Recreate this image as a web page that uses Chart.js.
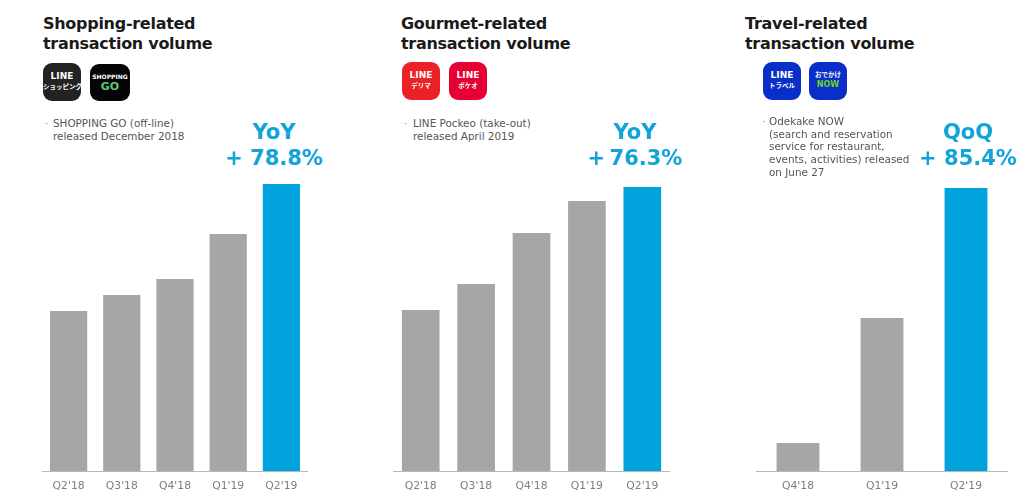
<!DOCTYPE html>
<html>
<head>
<meta charset="utf-8">
<script src="https://cdn.jsdelivr.net/npm/chart.js@4"></script>
<style>
html, body { margin: 0; padding: 0; background: #fff; }
body { position: relative; width: 1024px; height: 504px; overflow: hidden; font-family: "DejaVu Sans", sans-serif; }
canvas, .t, .icon { position: absolute; }
.title { font-size: 16px; font-weight: bold; line-height: 20px; color: #1a1a1a; white-space: nowrap; letter-spacing: -0.28px; }
.note { font-size: 10.4px; line-height: 12.7px; color: #555; white-space: nowrap; }
.delta { font-size: 21px; font-weight: bold; line-height: 26px; color: #12a3d9; text-align: center; white-space: nowrap; }
.icon { width: 38px; height: 38px; border-radius: 9px; color: #fff; text-align: center; font-weight: bold; font-size: 9px; line-height: 11px; box-sizing: border-box; padding-top: 8px; white-space: nowrap; }
.icon small { display: block; font-size: 6.5px; line-height: 9px; font-family: "Noto Sans CJK JP", sans-serif; }
</style>
</head>
<body>
<canvas id="shopping" style="left:42px;top:171px"></canvas>
<canvas id="gourmet" style="left:393px;top:171px"></canvas>
<canvas id="travel" style="left:756px;top:171px"></canvas>

<div class="t title" style="left:43px;top:14px">Shopping-related<br>transaction volume</div>
<div class="t title" style="left:401px;top:14px">Gourmet-related<br>transaction volume</div>
<div class="t title" style="left:745px;top:14px">Travel-related<br>transaction volume</div>

<div class="icon" style="left:43px;top:63px;background:#232323">LINE<small>ショッピング</small></div>
<div class="icon" style="left:90px;top:64px;width:40px;height:37px;background:#050505;font-size:6px;line-height:8px;padding-top:9px">SHOPPING<br><span style="color:#58c878;font-size:11px;line-height:12px">GO</span></div>
<div class="icon" style="left:402px;top:62px;background:#ea2227">LINE<small>デリマ</small></div>
<div class="icon" style="left:449px;top:62px;background:#e60033">LINE<small>ポケオ</small></div>
<div class="icon" style="left:763px;top:62px;background:#0a2fc8">LINE<small>トラベル</small></div>
<div class="icon" style="left:809px;top:62px;background:#0a2fc8;padding-top:8px"><small>おでかけ</small><span style="color:#6fd321;font-size:8px;line-height:9px">NOW</span></div>

<div class="t note" style="left:45px;top:117px;color:#999">·</div>
<div class="t note" style="left:53px;top:117px">SHOPPING GO (off-line)<br>released December 2018</div>
<div class="t note" style="left:404px;top:117px;color:#999">·</div>
<div class="t note" style="left:413px;top:117px">LINE Pockeo (take-out)<br>released April 2019</div>
<div class="t note" style="left:762px;top:115px;color:#999">·</div>
<div class="t note" style="left:769px;top:115px">Odekake NOW<br>(search and reservation<br>service for restaurant,<br>events, activities) released<br>on June 27</div>

<div class="t delta" style="left:215px;width:118px;top:119px">YoY<br>+ 78.8%</div>
<div class="t delta" style="left:576px;width:118px;top:119px;word-spacing:-3px">YoY<br>+ 76.3%</div>
<div class="t delta" style="left:909px;width:118px;top:119px">QoQ<br>+ 85.4%</div>

<script>
const shoppingLabels = ["Q2'18", "Q3'18", "Q4'18", "Q1'19", "Q2'19"];
const shoppingValues = [160, 176, 192, 237, 287];
const gourmetLabels = ["Q2'18", "Q3'18", "Q4'18", "Q1'19", "Q2'19"];
const gourmetValues = [161, 187, 238, 270, 284];
const travelLabels = ["Q4'18", "Q1'19", "Q2'19"];
const travelValues = [28, 153, 283];

const GREY = '#a6a6a6';
const BLUE = '#00a3dc';

function barChart(id, labels, values, width, catPct) {
    const el = document.getElementById(id);
    el.width = width;
    el.height = 330;
    el.style.width = width + 'px';
    el.style.height = '330px';
    return new Chart(el, {
        type: 'bar',
        data: {
            labels: labels,
            datasets: [{
                data: values,
                // last quarter is the highlighted one
                backgroundColor: values.map((v, i) => i === values.length - 1 ? BLUE : GREY),
                barPercentage: 1,
                categoryPercentage: catPct
            }]
        },
        options: {
            responsive: false,
            animation: false,
            layout: { padding: 0 },
            plugins: { legend: { display: false }, tooltip: { enabled: false } },
            scales: {
                x: {
                    afterFit: (s) => { s.height = 30; },
                    grid: { display: false },
                    border: { color: '#b4b8b8', width: 1 },
                    ticks: {
                        padding: 1,
                        color: '#7b8082',
                        maxRotation: 0,
                        font: { family: 'DejaVu Sans', size: 10.8 }
                    }
                },
                y: { display: false, min: 0, max: 300 }
            }
        }
    });
}

barChart('shopping', shoppingLabels, shoppingValues, 266, 0.70);
barChart('gourmet', gourmetLabels, gourmetValues, 277, 0.68);
barChart('travel', travelLabels, travelValues, 252, 0.51);
</script>
</body>
</html>
